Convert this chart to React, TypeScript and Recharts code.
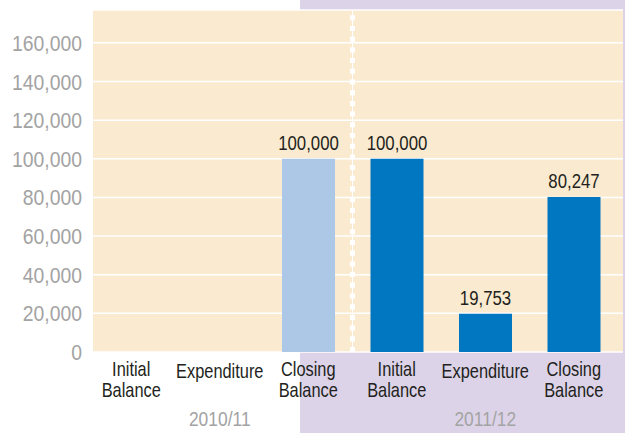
import React from "react";
import { BarChart, Bar, XAxis, YAxis, CartesianGrid, ReferenceLine, LabelList, Cell } from "recharts";

const categoryIds = ["ib10", "ex10", "cb10", "ib11", "ex11", "cb11"];
const categoryLabels = [
  ["Initial", "Balance"],
  ["Expenditure"],
  ["Closing", "Balance"],
  ["Initial", "Balance"],
  ["Expenditure"],
  ["Closing", "Balance"],
];
const years = ["2010/11", "2010/11", "2010/11", "2011/12", "2011/12", "2011/12"];
const values = [0, 0, 100000, 100000, 19753, 80247];
const yTicks = [0, 20000, 40000, 60000, 80000, 100000, 120000, 140000, 160000];

const data = categoryIds.map((id, i) => ({ id, value: values[i], year: years[i], label: categoryLabels[i] }));

const yearColor: Record<string, string> = { "2010/11": "#adc8e6", "2011/12": "#0077c0" };
const FONT = "'Liberation Sans', Arial, sans-serif";
const fmt = (v: number) => v.toLocaleString("en-US");

const CatTick = (props: any) => {
  const { x, y, payload, index } = props;
  const d = data[index] ?? data.find((e) => e.id === payload.value);
  if (!d) return null;
  const lines = d.label;
  const twoLine = lines.length > 1;
  const isMiddle = index === 1 || index === 4;
  return (
    <g>
      <g transform={`translate(${x},${y}) scale(0.82,1)`}>
        <text x={0} y={0} textAnchor="middle" fontFamily={FONT} fontSize={20} fill="#231f20">
          {lines.map((l: string, i: number) => (
            <tspan key={i} x={0} dy={i === 0 ? (twoLine ? 16 : 18) : 21}>
              {l}
            </tspan>
          ))}
        </text>
      </g>
      {isMiddle && (
        <g transform={`translate(${x},${y + 66}) scale(0.83,1)`}>
          <text x={0} y={0} textAnchor="middle" fontFamily={FONT} fontSize={21} fill="#a3a3a3">
            {d.year}
          </text>
        </g>
      )}
    </g>
  );
};

const ValTick = (props: any) => {
  const { x, y, payload } = props;
  return (
    <g transform={`translate(${x},${y}) scale(0.88,1)`}>
      <text x={0} y={0} dy={8} textAnchor="end" fontFamily={FONT} fontSize={22} fill="#a3a3a3">
        {fmt(payload.value)}
      </text>
    </g>
  );
};

const ValueLabel = (props: any) => {
  const { x, y, width, value } = props;
  if (!value) return null;
  return (
    <g transform={`translate(${x + width / 2},${y - 9}) scale(0.8,1)`}>
      <text x={0} y={0} textAnchor="middle" fontFamily={FONT} fontSize={21} fill="#231f20">
        {fmt(value)}
      </text>
    </g>
  );
};

export default function App() {
  return (
    <div style={{ position: "absolute", left: 0, top: 0, width: 625, height: 433 }}>
      <div style={{ position: "absolute", left: 300, top: 0, width: 325, height: 433, background: "#dcd3e8" }} />
      <div style={{ position: "absolute", left: 0, top: 0 }}>
        <BarChart width={625} height={433} data={data} margin={{ top: 10, right: 2, left: 0, bottom: 0 }}>
          <CartesianGrid vertical={false} stroke="#ffffff" strokeWidth={1.5} fill="#faebd0" />
          <XAxis
            dataKey="id"
            height={81}
            axisLine={false}
            tickLine={false}
            interval={0}
            padding={{ left: -6, right: 5 }}
            tick={<CatTick />}
          />
          <YAxis
            width={93}
            domain={[0, 177000]}
            ticks={yTicks}
            axisLine={false}
            tickLine={false}
            tickMargin={5}
            tick={<ValTick />}
          />
          <ReferenceLine x="ib11" position="start" stroke="#ffffff" strokeWidth={1} />
          <ReferenceLine x="ib11" position="start" stroke="#ffffff" strokeWidth={5} strokeDasharray="5 5.7" />
          <Bar dataKey="value" barSize={53} isAnimationActive={false}>
            {data.map((d) => (
              <Cell key={d.id} fill={yearColor[d.year]} />
            ))}
            <LabelList dataKey="value" content={<ValueLabel />} />
          </Bar>
        </BarChart>
      </div>
    </div>
  );
}
